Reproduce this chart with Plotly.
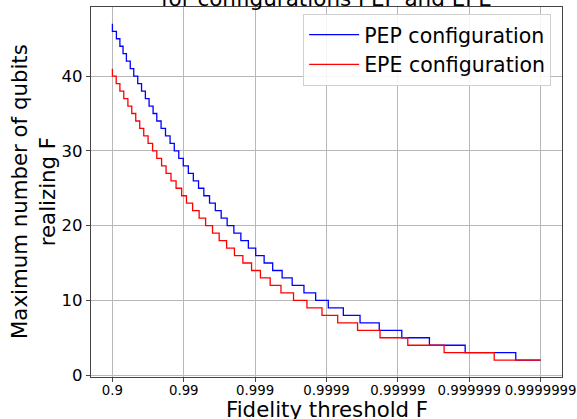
import plotly.graph_objects as go

# Fidelity thresholds expressed as number of nines: -log10(1 - F)
tick_nines = [1, 2, 3, 4, 5, 6, 7]
tick_labels = ["0.9", "0.99", "0.999", "0.9999", "0.99999", "0.999999", "0.9999999"]
y_ticks = [0, 10, 20, 30, 40]

# PEP configuration: value held from each threshold (in nines) onward
pep_nines = [1.000, 1.056, 1.105, 1.149, 1.196, 1.250, 1.299, 1.355, 1.408, 1.462,
             1.514, 1.570, 1.622, 1.682, 1.744, 1.808, 1.867, 1.930, 1.993, 2.064,
             2.134, 2.207, 2.281, 2.361, 2.442, 2.524, 2.608, 2.702, 2.800, 2.905,
             3.008, 3.126, 3.246, 3.378, 3.519, 3.684, 3.848, 4.025, 4.236, 4.470,
             4.739, 5.055, 5.442, 5.943, 6.652, 7.000]
pep_qubits = [47, 46, 45, 44, 43, 42, 41, 40, 39, 38,
              37, 36, 35, 34, 33, 32, 31, 30, 29, 28,
              27, 26, 25, 24, 23, 22, 21, 20, 19, 18,
              17, 16, 15, 14, 13, 12, 11, 10, 9, 8,
              7, 6, 5, 4, 3, 2]

# EPE configuration
epe_nines = [1.000, 1.053, 1.105, 1.159, 1.217, 1.271, 1.327, 1.383, 1.439, 1.500,
             1.563, 1.622, 1.689, 1.752, 1.821, 1.892, 1.970, 2.038, 2.124, 2.215,
             2.306, 2.403, 2.496, 2.600, 2.710, 2.828, 2.950, 3.074, 3.211, 3.362,
             3.538, 3.726, 3.937, 4.157, 4.435, 4.750, 5.139, 5.648, 6.350, 7.000]
epe_qubits = [41, 40, 39, 38, 37, 36, 35, 34, 33, 32,
              31, 30, 29, 28, 27, 26, 25, 24, 23, 22,
              21, 20, 19, 18, 17, 16, 15, 14, 13, 12,
              11, 10, 9, 8, 7, 6, 5, 4, 3, 2]

FONT = "DejaVu Sans"
W, H = 577, 419
ML, MR, MT, MB = 91, 15, 7, 42
PW, PH = W - ML - MR, H - MT - MB

fig = go.Figure()
fig.add_trace(go.Scatter(x=pep_nines, y=pep_qubits, mode="lines", line_shape="vh",
                         line=dict(color="#0000ff", width=1.3), name="PEP configuration"))
fig.add_trace(go.Scatter(x=epe_nines, y=epe_qubits, mode="lines", line_shape="vh",
                         line=dict(color="#ff0000", width=1.3), name="EPE configuration"))

axis_common = dict(showline=True, mirror=True, linecolor="#444444", linewidth=1.2,
                   showgrid=True, gridcolor="#b8b8b8", gridwidth=1, zeroline=False,
                   ticks="outside", ticklen=4, tickcolor="#444444", automargin=False)

fig.update_xaxes(range=[0.7, 7.3], tickmode="array", tickvals=tick_nines, ticktext=tick_labels,
                 tickangle=0, ticklabelstandoff=-3,
                 tickfont=dict(family=FONT, size=13.3, color="#000000"), **axis_common)
fig.update_yaxes(range=[-0.25, 49.25], tickmode="array", tickvals=y_ticks,
                 ticktext=[str(v) for v in y_ticks],
                 tickfont=dict(family=FONT, size=16.5, color="#000000"), **axis_common)

fig.update_layout(
    width=W, height=H,
    margin=dict(l=ML, r=MR, t=MT, b=MB, pad=0),
    paper_bgcolor="#ffffff", plot_bgcolor="#ffffff",
    font=dict(family=FONT, color="#000000"),
    showlegend=True,
    legend=dict(x=0.977, y=0.9815, xanchor="right", yanchor="top",
                bgcolor="rgba(255,255,255,0.85)", bordercolor="#d0d0d0", borderwidth=1,
                font=dict(family=FONT, size=20.5, color="#000000"), itemwidth=50,
                tracegroupgap=0),
    annotations=[
        dict(text="for configurations PEP and EPE", xref="paper", yref="paper",
             x=0.5, y=1 + (MT + 2) / PH, xanchor="center", yanchor="middle",
             showarrow=False, font=dict(family=FONT, size=21.5, color="#000000")),
        dict(text="Maximum number of qubits<br>realizing F", xref="paper", yref="paper",
             x=(33 - ML) / PW, y=0.5, xanchor="center", yanchor="middle", textangle=-90,
             showarrow=False, font=dict(family=FONT, size=21.3, color="#000000")),
        dict(text="Fidelity threshold F", xref="paper", yref="paper",
             x=0.5, y=-(409 - (MT + PH)) / PH, xanchor="center", yanchor="middle",
             showarrow=False, font=dict(family=FONT, size=21.3, color="#000000")),
    ],
)

fig.write_html("out.html", config={"displayModeBar": False},
               post_script="document.body.style.margin='0';")
